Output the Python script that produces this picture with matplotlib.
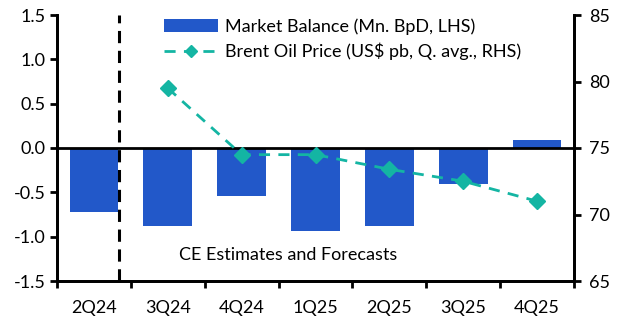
import matplotlib.pyplot as plt
import numpy as np

plt.rcParams['font.family'] = ['Lato', 'DejaVu Sans']

quarters = ["2Q24", "3Q24", "4Q24", "1Q25", "2Q25", "3Q25", "4Q25"]
balance = [-0.72, -0.88, -0.54, -0.94, -0.88, -0.41, 0.09]
brent_q = ["3Q24", "4Q24", "1Q25", "2Q25", "3Q25", "4Q25"]
brent = [79.5, 74.5, 74.5, 73.4, 72.5, 71.0]

bar_col = "#2258c9"
line_col = "#14b5a3"
fs = 13

fig = plt.figure(figsize=(6.25, 3.3), dpi=100)
ax = fig.add_axes([57/625, 1 - 281/330, (574-57)/625, (281-15)/330])
ax2 = ax.twinx()

x = np.arange(len(quarters))
bars = ax.bar(x, balance, width=0.66, color=bar_col, zorder=2,
              label="Market Balance (Mn. BpD, LHS)")
ax.axhline(0, color="black", lw=2, zorder=3)
ax.axvline(0.34, color="black", lw=2.2, ls=(0, (4, 2.5)), zorder=3)

xb = [quarters.index(q) for q in brent_q]
ln, = ax2.plot(xb, brent, color=line_col, lw=2, ls=(0, (4, 3)), marker="D",
               ms=8, label="Brent Oil Price (US$ pb, Q. avg., RHS)", zorder=4)

ax.set_xlim(-0.5, 6.5)
ax.set_ylim(-1.5, 1.5)
ax2.set_ylim(65, 85)
ax.set_yticks([-1.5, -1.0, -0.5, 0.0, 0.5, 1.0, 1.5])
ax.set_yticklabels(["-1.5", "-1.0", "-0.5", "0.0", "0.5", "1.0", "1.5"])
ax2.set_yticks([65, 70, 75, 80, 85])

ax.set_xticks(x)
ax.set_xticklabels(quarters)
ax.set_xticks(np.arange(-0.5, 7, 1), minor=True)
ax.tick_params(axis="x", which="major", length=0, pad=14, labelsize=fs)
ax.tick_params(axis="x", which="minor", length=5, width=2, direction="out")
ax.tick_params(axis="y", length=5, width=2, labelsize=fs, pad=3)
ax2.tick_params(axis="y", length=5, width=2, labelsize=fs, pad=6)

for a in (ax, ax2):
    a.spines["top"].set_visible(False)
    for s in ("left", "right", "bottom"):
        a.spines[s].set_linewidth(2)

ax.text(2.63, -1.21, "CE Estimates and Forecasts", ha="center", va="center",
        fontsize=fs)

leg = ax.legend([bars, ln], [bars.get_label(), ln.get_label()], loc="upper left",
                bbox_to_anchor=(0.175, 1.05), frameon=False, fontsize=fs,
                handlelength=3.0, handletextpad=0.4, labelspacing=0.45,
                markerscale=0.8)

fig.savefig("out.png", dpi=100)
